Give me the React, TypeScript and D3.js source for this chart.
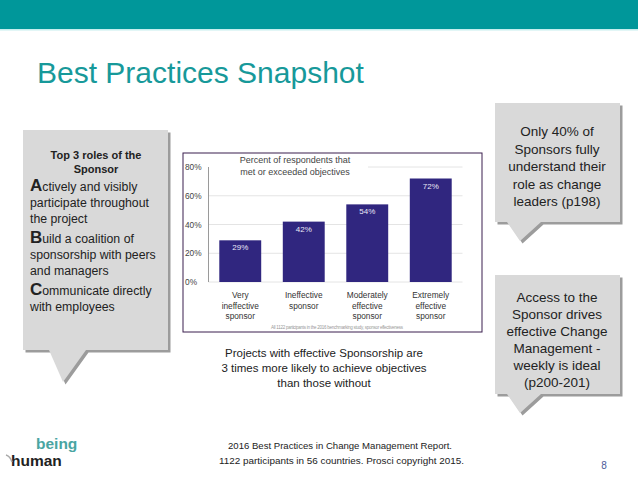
import * as d3 from "d3";

const CATEGORIES = [
  ["Very", "ineffective", "sponsor"],
  ["Ineffective", "sponsor"],
  ["Moderately", "effective", "sponsor"],
  ["Extremely", "effective", "sponsor"],
];
const VALUES = [29, 42, 54, 72];
const Y_TICKS = [0, 20, 40, 60, 80];

const ROLES = [
  { initial: "A", lines: ["ctively and visibly", "participate throughout", "the project"] },
  { initial: "B", lines: ["uild a coalition of", "sponsorship with peers", "and managers"] },
  { initial: "C", lines: ["ommunicate directly", "with employees"] },
];
const NOTE_1 = ["Only 40% of", "Sponsors fully", "understand their", "role as change", "leaders (p198)"];
const NOTE_2 = ["Access to the", "Sponsor drives", "effective Change", "Management  -", "weekly is ideal", "(p200-201)"];
const CAPTION = [
  "Projects with effective Sponsorship are",
  "3 times more likely to achieve objectives",
  "than those without",
];
const FOOTER = [
  "2016 Best Practices in Change Management Report.",
  "1122  participants in 56 countries.  Prosci copyright 2015.",
];

const W = 638;
const H = 479;
const FONT = "'Liberation Sans', Arial, sans-serif";
const TEAL = "#00979a";
const BAR = "#30267f";

// chart frame / plot area
const FRAME = { x: 183, y: 153, w: 299, h: 179 };
const PLOT = { left: 208.5, right: 462.5, top: 167, bottom: 282 };

// callout: box with a pointer underneath
const callout = (x0: number, y0: number, x1: number, y1: number, b0: number, b1: number, tx: number, ty: number) => {
  const p = d3.path();
  p.moveTo(x0, y0);
  p.lineTo(x1, y0);
  p.lineTo(x1, y1);
  p.lineTo(b1, y1);
  p.lineTo(tx, ty);
  p.lineTo(b0, y1);
  p.lineTo(x0, y1);
  p.closePath();
  return p.toString();
};

const Callout = ({ d }: { d: string }) => (
  <g>
    <path d={d} transform="translate(2.5,2.5)" fill="#9c9c9c" />
    <path d={d} fill="#d9d9d9" />
  </g>
);

export default function App() {
  const y = d3.scaleLinear().domain([0, 80]).range([PLOT.bottom, PLOT.top]);
  const x = d3
    .scaleBand<number>()
    .domain(d3.range(VALUES.length))
    .range([PLOT.left, PLOT.right])
    .paddingInner(0.34)
    .paddingOuter(0.17);

  const leftBox = callout(23, 130, 168, 350, 49, 86, 63, 382);
  const rightBox1 = callout(495, 103, 620, 222, 507, 541, 520, 241);
  const rightBox2 = callout(495, 275, 620, 394, 507, 541, 520, 413);

  return (
    <svg
      width={W}
      height={H}
      style={{ position: "fixed", left: 0, top: 0, background: "#fff" }}
      fontFamily={FONT}
    >
      <rect width={W} height={H} fill="#fff" />
      {/* header band */}
      <rect x={0} y={0} width={W} height={29} fill={TEAL} />
      <rect x={0} y={29} width={W} height={1.5} fill="#c6eeee" />
      <text x={37} y={83} fontSize={30} fill="#17999a">
        Best Practices Snapshot
      </text>

      {/* left callout */}
      <Callout d={leftBox} />
      <text x={96} y={159} textAnchor="middle" fontSize={11} fontWeight="bold" fill="#222">
        Top 3 roles of the
      </text>
      <text x={96} y={173} textAnchor="middle" fontSize={11} fontWeight="bold" fill="#222">
        Sponsor
      </text>
      {ROLES.map((r, i) => {
        const top = 191 + i * 52;
        return (
          <g key={r.initial} fill="#222">
            {r.lines.map((l, j) => (
              <text key={j} x={30} y={top + j * 16} fontSize={12.3}>
                {j === 0 && (
                  <tspan fontSize={17} fontWeight="bold">
                    {r.initial}
                  </tspan>
                )}
                {l}
              </text>
            ))}
          </g>
        );
      })}

      {/* right callouts */}
      <Callout d={rightBox1} />
      {NOTE_1.map((l, i) => (
        <text key={l} x={557} y={136 + i * 17.5} textAnchor="middle" fontSize={13.5} fill="#222">
          {l}
        </text>
      ))}
      <Callout d={rightBox2} />
      {NOTE_2.map((l, i) => (
        <text key={l} x={557} y={302 + i * 17} textAnchor="middle" fontSize={13.5} fill="#222">
          {l}
        </text>
      ))}

      {/* chart */}
      <rect x={FRAME.x} y={FRAME.y} width={FRAME.w} height={FRAME.h} fill="#fff" stroke="#3b1f4e" strokeWidth={1} />
      <g>
        {Y_TICKS.map((t) => (
          <line
            key={t}
            x1={t === 80 ? 368 : PLOT.left}
            x2={PLOT.right}
            y1={y(t)}
            y2={y(t)}
            stroke="#e4e4e4"
            strokeWidth={1}
          />
        ))}
        <line x1={PLOT.left} x2={PLOT.left} y1={y(80)} y2={y(0)} stroke="#9a9a9a" strokeWidth={1} />
        {Y_TICKS.map((t) => (
          <text key={t} x={185} y={y(t) + 3} fontSize={8.3} fill="#444">
            {t}%
          </text>
        ))}
        {VALUES.map((v, i) => (
          <g key={i}>
            <rect x={x(i)} y={y(v)} width={x.bandwidth()} height={y(0) - y(v)} fill={BAR} />
            <text
              x={x(i)! + x.bandwidth() / 2}
              y={y(v) + 10}
              textAnchor="middle"
              fontSize={8}
              fill="#e8e6f5"
            >
              {v}%
            </text>
            {CATEGORIES[i].map((c, j) => (
              <text
                key={j}
                x={x(i)! + x.bandwidth() / 2}
                y={298 + j * 10.5}
                textAnchor="middle"
                fontSize={8.3}
                fill="#333"
              >
                {c}
              </text>
            ))}
          </g>
        ))}
        <text x={295} y={163} textAnchor="middle" fontSize={9} fill="#444">
          Percent of respondents that
        </text>
        <text x={295} y={175} textAnchor="middle" fontSize={9} fill="#444">
          met or exceeded objectives
        </text>
        <text x={337} y={329} textAnchor="middle" fontSize={4.5} fill="#999" textLength={132}>
          All 1122 participants in the 2016 benchmarking study, sponsor effectiveness
        </text>
      </g>

      {/* caption */}
      {CAPTION.map((l, i) => (
        <text key={l} x={324} y={357 + i * 15} textAnchor="middle" fontSize={11.5} fill="#222">
          {l}
        </text>
      ))}

      {/* footer */}
      <text x={340} y={449} textAnchor="middle" fontSize={9.5} fill="#222" textLength={224} lengthAdjust="spacingAndGlyphs">
        {FOOTER[0]}
      </text>
      <text x={341.5} y={464} textAnchor="middle" fontSize={9.5} fill="#222" textLength={245} lengthAdjust="spacingAndGlyphs">
        {FOOTER[1]}
      </text>
      <text x={604} y={469} textAnchor="middle" fontSize={10} fill="#4a5a98">
        8
      </text>

      {/* logo */}
      <text x={36} y={449} fontSize={15.5} fontWeight="bold" fill="#4aa5a2">
        being
      </text>
      <text x={11} y={466} fontSize={15.5} fontWeight="bold" fill="#222">
        human
      </text>
      <path d="M6,455 Q10,456 12,462" stroke="#aaa" strokeWidth={1.5} fill="none" />
    </svg>
  );
}
